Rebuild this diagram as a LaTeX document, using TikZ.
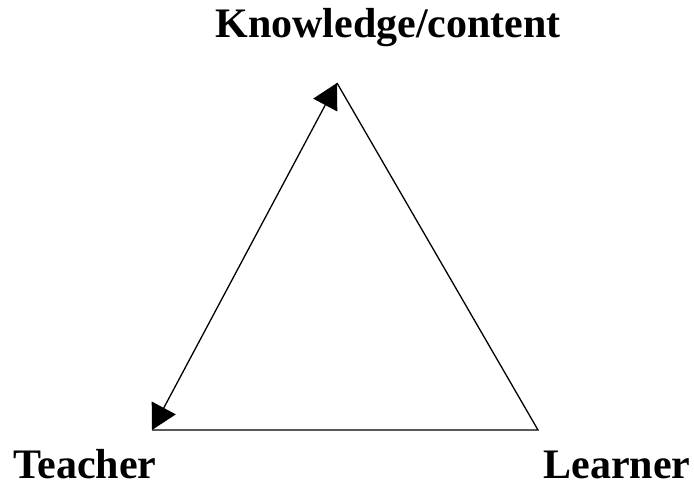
\documentclass[tikz,border=0pt]{standalone}
\usepackage{fontspec}
\setmainfont{Liberation Serif}
\usetikzlibrary{arrows.meta}
\begin{document}
\begin{tikzpicture}[x=1pt,y=1pt,
  edge/.style={line width=1.3pt,black},
  lbl/.style={font=\fontsize{42}{48}\selectfont\bfseries,inner sep=0pt,anchor=base}]
\useasboundingbox (0,0) rectangle (694,487);
\coordinate (K) at (337,404);
\coordinate (T) at (152,57);
\coordinate (L) at (538,57);
\draw[edge] (T) -- (L) -- (K);
\draw[edge,{Triangle[length=25pt,width=27pt]}-{Triangle[length=25pt,width=27pt]}] (T) -- (K);
\node[lbl] (kt) at (388,449) {Knowledge/content};
\node[lbl] (tt) at (85,8) {Teacher};
\node[lbl] (lt) at (617,8) {Learner};
\end{tikzpicture}
\end{document}
